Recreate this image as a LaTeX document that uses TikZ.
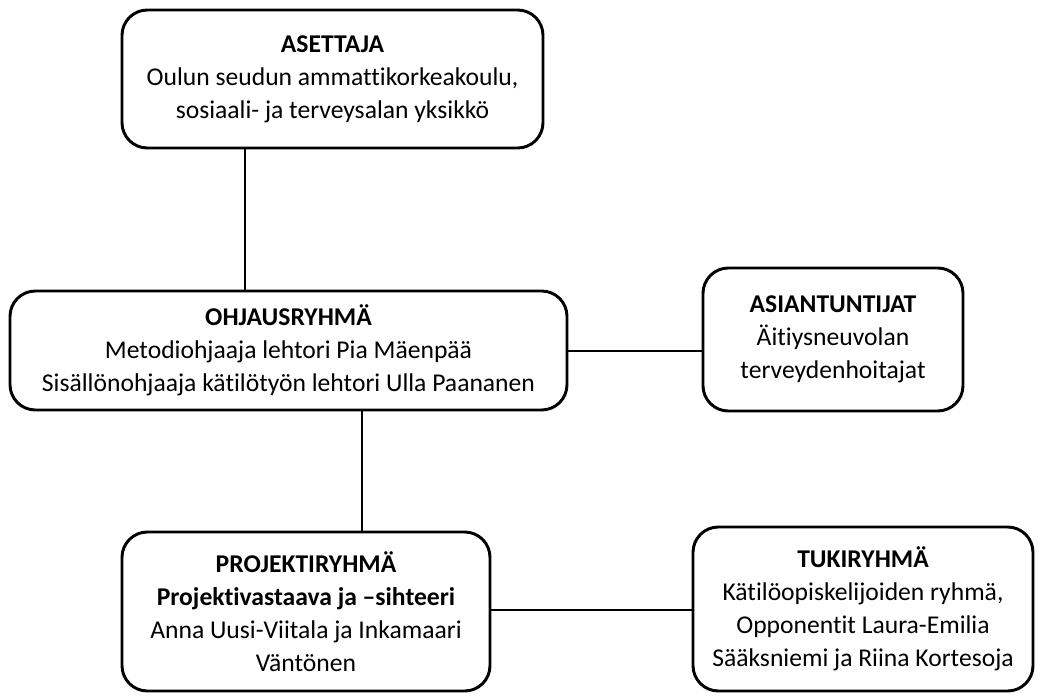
\documentclass[tikz,border=0pt]{standalone}
\usepackage{fontspec}
\setmainfont{Carlito}[Ligatures=NoCommon]
\begin{document}
\begin{tikzpicture}[x=0.75pt,y=-0.75pt,
  box/.style={draw=black,line width=2.2pt,rounded corners=19pt,align=center,
    inner sep=0pt,font=\fontsize{19.2}{24.8}\selectfont},
  link/.style={draw=black,line width=1pt}]
\useasboundingbox (0,0) rectangle (1043,700);
\node[box,minimum width=421*0.75pt,minimum height=138*0.75pt] (aset) at (332.5,79)
  {\textbf{ASETTAJA}\\Oulun seudun ammattikorkeakoulu,\\sosiaali- ja terveysalan yksikkö};
\node[box,minimum width=557*0.75pt,minimum height=119*0.75pt] (ohj) at (288.5,350.5)
  {\textbf{OHJAUSRYHMÄ}\\Metodiohjaaja lehtori Pia Mäenpää\\Sisällönohjaaja kätilötyön lehtori Ulla Paananen};
\node[box,minimum width=260*0.75pt,minimum height=143*0.75pt] (asi) at (833,339.5)
  {\textbf{ASIANTUNTIJAT}\\Äitiysneuvolan\\terveydenhoitajat};
\node[box,minimum width=368*0.75pt,minimum height=159*0.75pt] (proj) at (306,611.5)
  {\textbf{PROJEKTIRYHMÄ}\\\textbf{Projektivastaava ja –sihteeri}\\Anna Uusi-Viitala ja Inkamaari\\Väntönen};
\node[box,minimum width=340*0.75pt,minimum height=164*0.75pt] (tuki) at (863,609)
  {\textbf{TUKIRYHMÄ}\\Kätilöopiskelijoiden ryhmä,\\Opponentit Laura-Emilia\\Sääksniemi ja Riina Kortesoja};
\coordinate (c1) at (245,0);
\coordinate (c2) at (0,351);
\coordinate (c3) at (362,0);
\coordinate (c4) at (0,610);
\draw[link] (aset.south -| c1) -- (ohj.north -| c1);
\draw[link] (ohj.east |- c2) -- (asi.west |- c2);
\draw[link] (ohj.south -| c3) -- (proj.north -| c3);
\draw[link] (proj.east |- c4) -- (tuki.west |- c4);
\end{tikzpicture}
\end{document}
